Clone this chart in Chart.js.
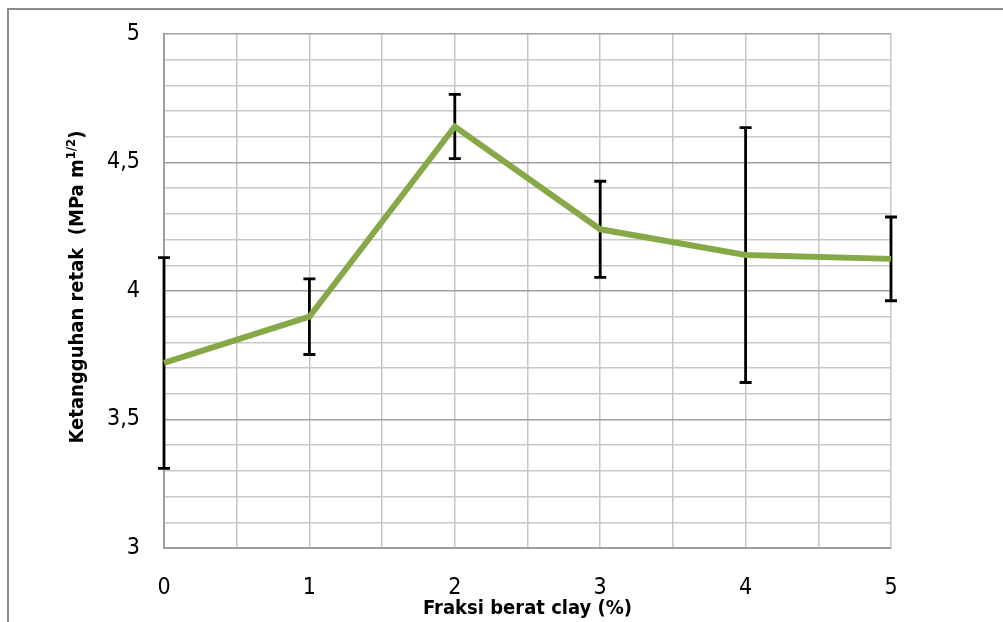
<!DOCTYPE html>
<html>
<head>
<meta charset="utf-8">
<script src="https://cdn.jsdelivr.net/npm/chart.js@4/dist/chart.umd.min.js"></script>
<style>
  html, body { margin: 0; padding: 0; background: #fff; }
  canvas { display: block; }
</style>
</head>
<body>
<canvas id="chart" width="1003" height="622"></canvas>
<script>
// data
const clayFractions = [0, 1, 2, 3, 4, 5];
const toughnessMeans = [3.72, 3.90, 4.64, 4.24, 4.14, 4.125];
const toughnessErrors = [0.41, 0.147, 0.125, 0.187, 0.496, 0.163];
const yLabelValues = [3, 3.5, 4, 4.5, 5];
const xLabelValues = [0, 1, 2, 3, 4, 5];

const xTitle = 'Fraksi berat clay (%)';
const yTitleMain = 'Ketangguhan retak  (MPa m';
const yTitleSup = '1/2';
const yTitleEnd = ')';

const narrow = "'Liberation Sans Narrow', 'DejaVu Sans Condensed', sans-serif";

const near = (v, list) => list.some(t => Math.abs(v - t) < 1e-6);

// error bars, drawn under the line
const errorBars = {
    id: 'errorBars',
    beforeDatasetsDraw(chart) {
        const { ctx, scales: { x, y } } = chart;
        ctx.save();
        ctx.strokeStyle = '#000';
        ctx.lineWidth = 2.8;
        clayFractions.forEach((f, i) => {
            const px = x.getPixelForValue(f);
            const top = y.getPixelForValue(toughnessMeans[i] + toughnessErrors[i]);
            const bot = y.getPixelForValue(toughnessMeans[i] - toughnessErrors[i]);
            ctx.beginPath();
            ctx.moveTo(px, top); ctx.lineTo(px, bot);
            ctx.moveTo(px - 6, top); ctx.lineTo(px + 6, top);
            ctx.moveTo(px - 6, bot); ctx.lineTo(px + 6, bot);
            ctx.stroke();
        });
        ctx.restore();
    }
};

// outer frame and axis titles (y title needs a superscript)
const frameAndTitles = {
    id: 'frameAndTitles',
    beforeDraw(chart) {
        const ctx = chart.ctx;
        ctx.save();
        ctx.strokeStyle = '#8c8c8c';
        ctx.lineWidth = 2;
        ctx.strokeRect(8, 9, 1100, 700);
        ctx.restore();
    },
    afterDraw(chart) {
        const { ctx, chartArea } = chart;
        ctx.save();
        ctx.fillStyle = '#000';

        // x title
        ctx.font = 'bold 20px ' + narrow;
        ctx.textAlign = 'center';
        ctx.textBaseline = 'alphabetic';
        ctx.fillText(xTitle, (chartArea.left + chartArea.right) / 2, 614);

        // y title, rotated
        const mainFont = 'bold 20px ' + narrow;
        const supFont = 'bold 13px ' + narrow;
        ctx.font = mainFont;
        const wMain = ctx.measureText(yTitleMain).width;
        const wEnd = ctx.measureText(yTitleEnd).width;
        ctx.font = supFont;
        const wSup = ctx.measureText(yTitleSup).width;
        const total = wMain + wSup + wEnd;

        ctx.translate(83, 287);
        ctx.rotate(-Math.PI / 2);
        ctx.textAlign = 'left';
        let cx = -total / 2;
        ctx.font = mainFont;
        ctx.fillText(yTitleMain, cx, 0);
        cx += wMain;
        ctx.font = supFont;
        ctx.fillText(yTitleSup, cx, -8);
        cx += wSup;
        ctx.font = mainFont;
        ctx.fillText(yTitleEnd, cx, 0);
        ctx.restore();
    }
};

new Chart(document.getElementById('chart'), {
    type: 'line',
    data: {
        datasets: [{
            data: clayFractions.map((f, i) => ({ x: f, y: toughnessMeans[i] })),
            borderColor: '#87a847',
            borderWidth: 6,
            tension: 0,
            pointRadius: 0,
            clip: 10
        }]
    },
    options: {
        responsive: false,
        animation: false,
        layout: { padding: { top: 34, right: 112, left: 0, bottom: 0 } },
        plugins: { legend: { display: false }, tooltip: { enabled: false } },
        scales: {
            x: {
                type: 'linear',
                min: 0, max: 5,
                afterFit: (scale) => { scale.height = 74; },
                ticks: {
                    stepSize: 0.5,
                    autoSkip: false,
                    maxRotation: 0,
                    padding: 26,
                    color: '#000',
                    font: { family: narrow, size: 23 },
                    callback: (v) => near(v, xLabelValues) ? String(v) : ''
                },
                grid: { color: '#c6c6c6', lineWidth: 1.5, drawTicks: false },
                border: { color: '#a0a0a0', width: 2 }
            },
            y: {
                min: 3, max: 5,
                afterFit: (scale) => {
                    scale.width = 164;
                    scale.paddingTop = 0;
                    scale.paddingBottom = 0;
                },
                ticks: {
                    stepSize: 0.1,
                    autoSkip: false,
                    padding: 24,
                    color: '#000',
                    font: { family: narrow, size: 23 },
                    callback: (v) => near(v, yLabelValues) ? String(Math.round(v * 10) / 10).replace('.', ',') : ''
                },
                grid: {
                    drawTicks: false,
                    lineWidth: 1.5,
                    color: (c) => near(c.tick.value, yLabelValues) ? '#a0a0a0' : '#c8c8c8'
                },
                border: { color: '#a0a0a0', width: 2 }
            }
        }
    },
    plugins: [errorBars, frameAndTitles]
});
</script>
</body>
</html>
